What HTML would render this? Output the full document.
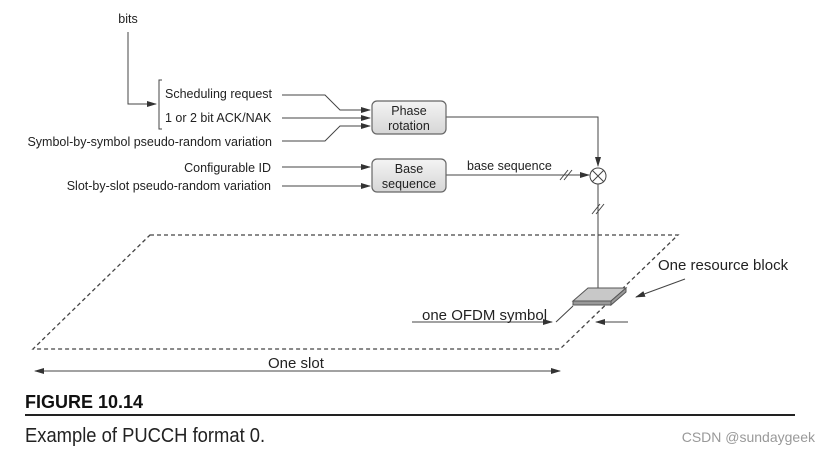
<!DOCTYPE html>
<html><head><style>
body{margin:0;width:828px;height:453px;background:#fff;overflow:hidden;font-family:"Liberation Sans",sans-serif}
</style></head><body>
<svg width="828" height="453" xmlns="http://www.w3.org/2000/svg" font-family="Liberation Sans, sans-serif">
<defs>
<marker id="a" markerWidth="10" markerHeight="6" refX="9" refY="3" orient="auto" markerUnits="userSpaceOnUse"><path d="M0,0 L10,3 L0,6 Z" fill="#333"/></marker>
<marker id="s" markerWidth="10" markerHeight="6" refX="1" refY="3" orient="auto" markerUnits="userSpaceOnUse"><path d="M10,0 L0,3 L10,6 Z" fill="#333"/></marker>
<linearGradient id="g" x1="0" y1="0" x2="0" y2="1"><stop offset="0" stop-color="#f4f4f4"/><stop offset="1" stop-color="#d6d6d6"/></linearGradient>
</defs>
<g stroke="#444" stroke-width="1" fill="none">
<path d="M128,32 V104 H156" marker-end="url(#a)"/>
<path d="M162,80 H159 V129 H162"/>
<path d="M282,95 H325 L340,110 H370" marker-end="url(#a)"/>
<path d="M282,118 H370" marker-end="url(#a)"/>
<path d="M282,141 H325 L340,126 H370" marker-end="url(#a)"/>
<path d="M282,167 H370" marker-end="url(#a)"/>
<path d="M282,186 H370" marker-end="url(#a)"/>
<path d="M446,117 H598 V166" marker-end="url(#a)"/>
<path d="M446,175 H589" marker-end="url(#a)"/>
<circle cx="598" cy="176" r="8"/>
<path d="M592,170 L604,182 M604,170 L592,182"/>
<path d="M598,184 V300" marker-end="url(#a)"/>
<path d="M560,180 L568,170 M564,180 L572,170"/>
<path d="M592,214 L600,204 M596,214 L604,204"/>
<path d="M412,322 H552" marker-end="url(#a)"/>
<path d="M556,322 L573,306"/>
<path d="M628,322 H596" marker-end="url(#a)"/>
<path d="M685,279 L636,297" marker-end="url(#a)"/>
<path d="M35,371 H560" marker-start="url(#s)" marker-end="url(#a)"/>
</g>
<path d="M150,235 H678 L560,349 H33 Z" fill="none" stroke="#444" stroke-width="1.3" stroke-dasharray="4,3"/>
<path d="M573,301 L588,288 H626 L611,301 Z" fill="#c8c8c8" stroke="#555"/>
<path d="M573,301 H611 V305 H573 Z M611,301 L626,288 V292 L611,305 Z" fill="#999" stroke="#555"/>
<rect x="372" y="101" width="74" height="33" rx="5" fill="url(#g)" stroke="#666" stroke-width="1.2"/>
<rect x="372" y="159" width="74" height="33" rx="5" fill="url(#g)" stroke="#666" stroke-width="1.2"/>
<g font-size="12.5" fill="#222">
<text x="128" y="23" text-anchor="middle">bits</text>
<text x="165" y="98">Scheduling request</text>
<text x="165" y="122">1 or 2 bit ACK/NAK</text>
<text x="272" y="146" text-anchor="end">Symbol-by-symbol pseudo-random variation</text>
<text x="271" y="172" text-anchor="end">Configurable ID</text>
<text x="271" y="190" text-anchor="end">Slot-by-slot pseudo-random variation</text>
<text x="409" y="115" text-anchor="middle">Phase</text>
<text x="409" y="130" text-anchor="middle">rotation</text>
<text x="409" y="173" text-anchor="middle">Base</text>
<text x="409" y="188" text-anchor="middle">sequence</text>
<text x="467" y="170">base sequence</text>
</g>
<g font-size="15" fill="#222">
<text x="658" y="270">One resource block</text>
<text x="422" y="320">one OFDM symbol</text>
<text x="268" y="368">One slot</text>
</g>
<text x="25" y="408" font-size="18" font-weight="bold" fill="#111">FIGURE 10.14</text>
<rect x="25" y="414" width="770" height="2" fill="#222"/>
<text x="25" y="442" font-size="20" fill="#222" transform="scale(0.92,1)" style="transform-origin:25px 0">Example of PUCCH format 0.</text>
<text x="815" y="442" font-size="14" fill="#999" text-anchor="end">CSDN @sundaygeek</text>
</svg>
</body></html>
